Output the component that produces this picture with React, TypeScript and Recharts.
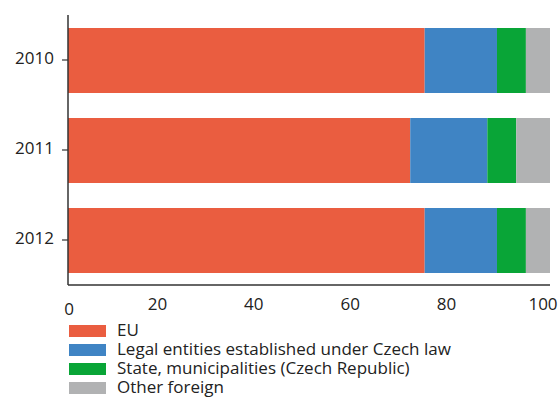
import React from 'react';
import { BarChart, Bar, XAxis, YAxis, Legend } from 'recharts';

const categories = ['2010', '2011', '2012'];
const euValues = [74, 71, 74];
const legalValues = [15, 16, 15];
const stateValues = [6, 6, 6];
const otherValues = [5, 7, 5];
const xTicks = [0, 20, 40, 60, 80, 100];

const seriesNames = [
  'EU',
  'Legal entities established under Czech law',
  'State, municipalities (Czech Republic)',
  'Other foreign',
];
const seriesKeys = ['eu', 'legal', 'state', 'other'];
const seriesColors = ['#EA5D40', '#3F84C4', '#09A537', '#B1B2B3'];

const data = categories.map((year, i) => ({
  year,
  eu: euValues[i],
  legal: legalValues[i],
  state: stateValues[i],
  other: otherValues[i],
}));

const FONT = '"Open Sans", "Noto Sans", sans-serif';
const TEXT = '#222';

const XTick = (props: any) => {
  const { x, y, payload } = props;
  const isZero = payload.value === 0;
  return (
    <text
      x={x + (isZero ? 1 : -7)}
      y={y + (isZero ? 30 : 25)}
      textAnchor="middle"
      fontFamily={FONT}
      fontSize={17}
      fill={TEXT}
    >
      {payload.value}
    </text>
  );
};

const YTick = (props: any) => {
  const { x, y, payload } = props;
  return (
    <text x={x} y={y + 4} textAnchor="end" fontFamily={FONT} fontSize={17} fill={TEXT}>
      {payload.value}
    </text>
  );
};

const renderLegend = () => (
  <div style={{ fontFamily: FONT, fontSize: 17, color: TEXT }}>
    {seriesNames.map((name, i) => (
      <div key={name} style={{ position: 'relative', height: 19, width: 420 }}>
        <span
          style={{
            position: 'absolute',
            left: 0,
            top: 5,
            width: 37,
            height: 12,
            background: seriesColors[i],
          }}
        />
        <span
          style={{
            position: 'absolute',
            left: 48,
            top: 0,
            lineHeight: '19px',
            whiteSpace: 'nowrap',
          }}
        >
          {name}
        </span>
      </div>
    ))}
  </div>
);

export default function App() {
  return (
    <div style={{ position: 'absolute', left: 0, top: 0, width: 558, height: 397, background: '#fff' }}>
      <BarChart
        width={558}
        height={397}
        data={data}
        layout="vertical"
        margin={{ top: 15, right: 8, left: 0, bottom: 0 }}
      >
        <XAxis
          type="number"
          domain={[0, 100]}
          ticks={xTicks}
          tickLine={false}
          tickSize={0}
          tickMargin={0}
          axisLine={{ stroke: '#333', strokeWidth: 1.5 }}
          tick={<XTick />}
          height={112}
          interval={0}
        />
        <YAxis
          type="category"
          dataKey="year"
          width={68}
          tickSize={6}
          tickMargin={8}
          tickLine={{ stroke: '#333', strokeWidth: 1.2 }}
          axisLine={{ stroke: '#333', strokeWidth: 1.5 }}
          tick={<YTick />}
        />
        {seriesKeys.map((k, i) => (
          <Bar
            key={k}
            dataKey={k}
            name={seriesNames[i]}
            stackId="a"
            fill={seriesColors[i]}
            barSize={65}
            isAnimationActive={false}
          />
        ))}
        <Legend
          layout="vertical"
          align="center"
          verticalAlign="middle"
          content={renderLegend}
          wrapperStyle={{ left: 69, top: 320, width: 430 }}
        />
      </BarChart>
    </div>
  );
}
